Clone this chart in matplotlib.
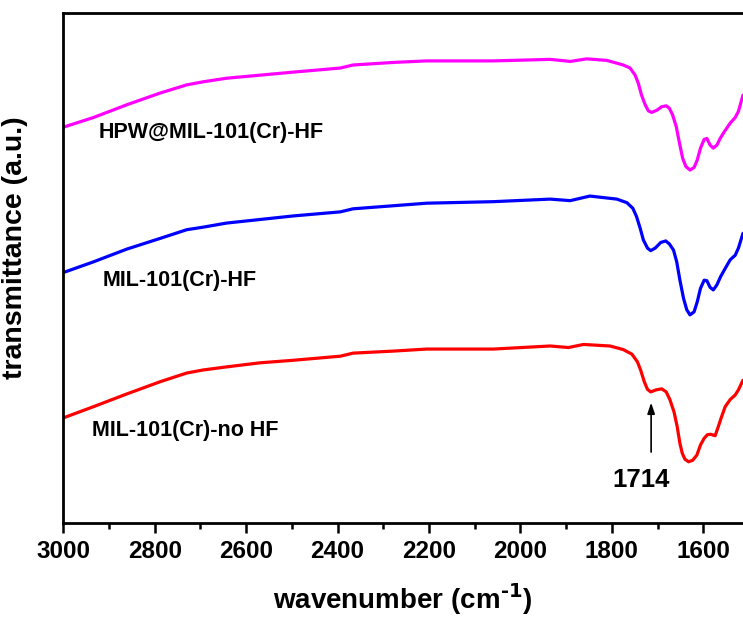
import matplotlib
matplotlib.use("Agg")
import matplotlib.pyplot as plt
from matplotlib.ticker import MultipleLocator

plt.rcParams['font.family'] = ['Liberation Sans', 'DejaVu Sans']
plt.rcParams['font.weight'] = 'bold'
plt.rcParams['mathtext.default'] = 'bf'

# FTIR spectra, offset transmittance (a.u.)
wn_hpw = [3000, 2934, 2861, 2788, 2730, 2694, 2643, 2570, 2497, 2394, 2366, 2278,
          2205, 2059, 1935, 1891, 1855, 1811, 1775, 1760, 1749, 1742, 1735, 1727,
          1720, 1713, 1702, 1691, 1681, 1674, 1667, 1659, 1652, 1645, 1638, 1629,
          1620, 1613, 1606, 1598, 1592, 1585, 1578, 1570, 1563, 1554, 1541, 1530,
          1523, 1513]
t_hpw = [77.6, 79.5, 82.0, 84.3, 85.9, 86.5, 87.2, 87.8, 88.4, 89.2, 89.8, 90.3,
         90.6, 90.6, 90.9, 90.5, 91.0, 90.7, 89.8, 89.2, 87.8, 86.2, 83.9, 82.0,
         80.8, 80.5, 80.9, 81.6, 81.8, 81.3, 80.0, 77.7, 74.5, 71.5, 69.9, 69.2,
         69.7, 71.2, 73.5, 75.2, 75.4, 74.1, 73.5, 74.1, 75.4, 76.7, 78.4, 79.5,
         80.7, 83.9]

wn_hf = [3000, 2934, 2861, 2788, 2730, 2694, 2643, 2570, 2497, 2394, 2366, 2278,
         2205, 2059, 1935, 1891, 1848, 1789, 1767, 1754, 1746, 1738, 1731, 1722,
         1715, 1705, 1693, 1682, 1674, 1665, 1658, 1651, 1643, 1636, 1629, 1620,
         1613, 1606, 1598, 1592, 1585, 1578, 1570, 1562, 1552, 1541, 1530, 1523,
         1513]
t_hf = [49.1, 51.2, 53.7, 55.8, 57.5, 58.0, 58.8, 59.5, 60.2, 61.0, 61.6, 62.2,
        62.7, 63.0, 63.5, 63.2, 64.1, 63.5, 62.8, 61.7, 60.1, 57.8, 55.5, 53.9,
        53.4, 53.9, 55.0, 55.3, 54.7, 53.5, 51.2, 47.6, 44.0, 41.8, 40.8, 41.4,
        43.4, 46.0, 47.6, 47.5, 46.2, 45.7, 46.7, 48.3, 49.9, 51.6, 52.5, 53.9,
        56.8]

wn_nohf = [3000, 2934, 2861, 2788, 2730, 2694, 2643, 2570, 2497, 2394, 2366, 2278,
           2205, 2059, 1935, 1895, 1862, 1804, 1775, 1756, 1744, 1737, 1729, 1722,
           1715, 1703, 1691, 1681, 1673, 1664, 1657, 1651, 1646, 1640, 1632, 1623,
           1614, 1606, 1598, 1591, 1584, 1574, 1567, 1560, 1552, 1541, 1530, 1523,
           1513]
t_nohf = [20.6, 22.8, 25.3, 27.7, 29.4, 30.0, 30.6, 31.4, 31.9, 32.7, 33.3, 33.7,
          34.1, 34.1, 34.7, 34.4, 35.0, 34.7, 34.0, 33.1, 31.6, 30.0, 27.7, 26.2,
          25.7, 26.1, 26.3, 25.7, 24.2, 21.8, 18.9, 15.6, 13.7, 12.5, 12.0, 12.3,
          13.3, 15.3, 16.6, 17.3, 17.4, 17.1, 18.9, 20.8, 22.8, 24.2, 25.1, 26.1,
          28.0]

series = [
    (wn_hpw, t_hpw, '#ff00ff', 'HPW@MIL-101(Cr)-HF', 2922, 76.5),
    (wn_hf, t_hf, '#0000ff', 'MIL-101(Cr)-HF', 2915, 47.5),
    (wn_nohf, t_nohf, '#ff0000', 'MIL-101(Cr)-no HF', 2937, 18.2),
]
peak = 1714

fig = plt.figure(figsize=(7.43, 6.2), dpi=100)
ax = fig.add_axes([0.0852, 0.1565, 0.9148, 0.8226])

for wn, t, c, name, lx, ly in series:
    ax.plot(wn, t, color=c, lw=2.3, solid_joinstyle='round', solid_capstyle='round')
    ax.text(lx, ly, name, fontsize=15.5, fontweight='bold', va='center', ha='left')

ax.annotate('', xy=(peak, 23.6), xytext=(peak, 13.9),
            arrowprops=dict(arrowstyle='-|>,head_length=0.65,head_width=0.22',
                            lw=1.2, color='black', mutation_scale=10,
                            shrinkA=0, shrinkB=0))
ax.text(peak + 22, 8.4, str(peak), fontsize=18.5, fontweight='bold', ha='center', va='center')

ax.set_xlim(3000, 1513)
ax.set_ylim(0, 100)
ax.xaxis.set_major_locator(MultipleLocator(200))
ax.xaxis.set_minor_locator(MultipleLocator(100))
ax.set_yticks([])
ax.tick_params(axis='x', which='major', direction='out', length=7, width=1.8,
               labelsize=17.5, pad=5)
ax.tick_params(axis='x', which='minor', direction='out', length=4, width=1.8)
for lab in ax.get_xticklabels():
    lab.set_fontweight('bold')

for s in ['left', 'top', 'bottom']:
    ax.spines[s].set_linewidth(2)
ax.spines['right'].set_visible(False)

ax.set_xlabel(r'wavenumber (cm$^{\text{-1}}$)', fontsize=20, fontweight='bold', labelpad=13)
ax.set_ylabel('transmittance (a.u.)', fontsize=20.5, fontweight='bold')
ax.yaxis.set_label_coords(-0.052, 0.54)

fig.savefig('out.png', dpi=100)
